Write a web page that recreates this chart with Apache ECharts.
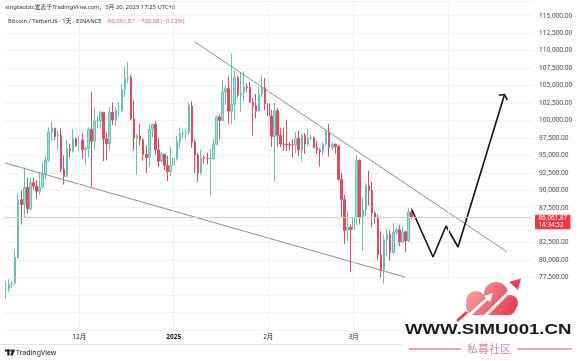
<!DOCTYPE html>
<html><head><meta charset="utf-8">
<script src="https://cdn.jsdelivr.net/npm/echarts@6/dist/echarts.min.js"></script>
<style>html,body{margin:0;padding:0;background:#fff}#c{width:580px;height:361px}</style>
</head><body><div id="c"></div>
<script>
// ---------- DATA ----------
const startDate = '2024-11-07';   // first visible daily candle
const slotCount = 173;            // daily slots across the plot (incl. empty future days)
// [open, close, low, high]
const nov = [
[75860,75900,74420,76950],[75900,76540,75400,77250],[76540,76680,75960,76950],[76680,80370,76490,81500],
[80370,88650,80220,89530],[88650,87950,85080,89950],[87950,90380,86130,93270],[90380,87330,86670,91760],
[87330,91070,87100,91850],[91070,90590,90090,91800],[90590,89860,88720,91450],[89860,90460,89380,92590],
[90460,92310,90380,94000],[92310,94290,91530,94830],[94290,98350,94060,98970],[98350,98890,97110,99800],
[98890,97670,97160,98900],[97670,97900,95730,98560],[97900,93010,92600,98870],[93010,91970,90790,94970],
[91970,95950,91820,97210],[95950,95640,94680,96650],[95640,97460,95380,98690],[97460,96410,96160,97500]
];
const dec = [
[96410,97190,95690,97840],[97190,95840,94500,98150],[95840,95980,93580,96300],[95980,98740,94660,99000],
[98740,97030,90500,104090],[97030,99920,95700,101900],[99920,99920,98900,100550],[99920,101170,98800,101400],
[101170,97350,94150,101200],[97350,96660,94260,98270],[96660,101170,95700,101900],[101170,100040,99310,102540],
[100040,101420,99200,101900],[101420,101420,100600,102650],[101420,104460,101200,105250],[104460,106060,103300,107800],
[106060,106140,105300,108350],[106140,100200,100000,106500],[100200,97460,95700,102800],[97460,97760,92200,98100],
[97760,97220,96400,99540],[97220,95100,94200,97400],[95100,94690,92400,96400],[94690,98690,93400,99400],
[98690,99450,97600,99500],[99450,95790,95100,99900],[95790,94160,93300,97500],[94160,95160,94000,95500],
[95160,93530,92900,95200],[93530,92640,91300,94900],[92640,93580,92000,96200]
];
const jan = [
[93580,94590,92750,95000],[94590,96980,94200,97800],[96980,98140,96000,98980],[98140,98210,97500,98730],
[98210,98310,97200,98800],[98310,102080,97900,102480],[102080,96920,96100,102700],[96920,95040,92500,97260],
[95040,92480,91200,95350],[92480,94700,92200,95840],[94700,94560,93800,95000],[94560,94500,93700,95400],
[94500,94520,89260,95900],[94520,96530,94300,97370],[96530,100500,96500,100700],[100500,99990,97300,100900],
[99990,104080,99900,105800],[104080,104550,102300,104990],[104550,101330,99500,106300],[101330,102260,99500,109590],
[102260,106140,100100,107200],[106140,103650,103300,106400],[103650,103960,101200,106850],[103960,104820,102750,107100],
[104820,104710,104100,105300],[104710,102620,102500,105500],[102620,102080,97800,103200],[102080,101330,100300,103800],
[101330,103730,101300,104800],[103730,104730,103300,106460],[104730,102430,101500,106100]
];
const feb = [
[102430,100640,100300,102800],[100640,97690,96200,101500],[97690,101400,91230,102500],[101400,97870,96150,101750],
[97870,96620,96200,99000],[96620,96590,95650,99000],[96590,96530,95600,100100],[96530,96480,95700,96900],
[96480,96460,94700,97300],[96460,97430,95300,98350],[97430,95780,94850,98500],[95780,97870,94100,98100],
[97870,96600,95200,98200],[96600,97500,96300,98800],[97500,97570,97200,97970],[97570,96120,96050,97700],
[96120,95770,95200,97000],[95770,95540,93400,96000],[95540,96630,95000,96900],[96630,98330,96400,98800],
[98330,96130,94850,99500],[96130,96580,95750,96900],[96580,96270,95250,96670],[96270,91550,91400,96500],
[91550,88680,86100,92500],[88680,84250,82300,89300],[84250,84700,82700,87000],[84700,84370,78260,85100]
];
const mar = [
[84370,86060,83800,86500],[86060,94270,85050,95000],[94270,86120,85100,94400],[86120,87220,81400,88900],
[87220,90620,86300,91000],[90620,89960,87800,92800],[89960,86740,84700,91200],[86740,86150,85200,86900],
[86150,80730,80000,86500],[80730,78600,77460,84100],[78600,82930,76600,83600],[82930,83680,80600,84400],
[83680,81070,79900,84300],[81070,83970,80800,85300],[83970,84340,83600,84700],[84340,82580,82000,85000],
[82580,84030,82400,84760],[84030,82720,81100,84100],[82720,86860.95,82600,87450],[86860.95,86061.87,85900,87450]
];
const monthTicks = [['2024-12-01','12月'],['2025-01-01','2025'],['2025-02-01','2月'],['2025-03-01','3月'],['2025-04-01','4月']];
const priceMin = 70000, priceMax = 117000, priceStep = 2500;
const countdown = '14:34:52';
const headerLine1 = 'xingtaobtc发表于TradingView.com，3月 20, 2025 17:25 UTC+8';
const symbolText = 'Bitcoin / TetherUS · 1天 · BINANCE';
const changeText = '−799.08 (−0.92%)';
// drawings: [slot index, price]
const upperTrend = [[61.98,111230],[164.3,81150]];
const lowerTrend = [[-0.34,93900],[130.85,77560]];
const projection = [[133.15,87160],[140.04,80430],[144.3,84870],[148.24,81860],[163.49,103710]];
const arrowHead = [[161.59,103600],[163.49,103710],[164.41,102920]];

// ---------- BUILD ----------
const candles = nov.concat(dec, jan, feb, mar);
const dates = [];
const t0 = Date.parse(startDate + 'T00:00:00Z');
for (let i = 0; i < slotCount; i++) dates.push(new Date(t0 + i * 86400000).toISOString().slice(0, 10));
const tickMap = {}; monthTicks.forEach(m => tickMap[m[0]] = m[1]);
const monthIdx = monthTicks.map(m => dates.indexOf(m[0]));
const lastClose = candles[candles.length - 1][1];
const fmt = v => v.toLocaleString('en-US', {minimumFractionDigits: 2, maximumFractionDigits: 2});
const FF = "'Noto Sans','Noto Sans CJK SC',sans-serif";

const chart = echarts.init(document.getElementById('c'));
const option = {
  animation: false,
  backgroundColor: '#ffffff',
  grid: {left: 4.5, right: 48, top: 1.74, bottom: 31.2},
  xAxis: [{
    type: 'category', data: dates, boundaryGap: true,
    axisLine: {show: false}, axisTick: {show: false}, splitLine: {show: false},
    axisLabel: {
      interval: (i, v) => tickMap[v] !== undefined,
      formatter: v => tickMap[v] === '2025' ? '{b|2025}' : (tickMap[v] || ''),
      color: '#131722', fontSize: 6.5, margin: 4, fontFamily: FF,
      rich: {b: {fontWeight: 'bold', fontSize: 6.5, color: '#131722', fontFamily: FF}}
    }
  }, {
    type: 'value', min: -0.5, max: slotCount - 0.5, show: false
  }],
  yAxis: {
    type: 'value', position: 'right', min: priceMin, max: priceMax, interval: priceStep,
    axisLine: {show: false}, axisTick: {show: false},
    splitLine: {lineStyle: {color: '#f0f2f6', width: 1}},
    axisLabel: {margin: 7, fontSize: 6.5, color: '#3d414a', fontFamily: FF, formatter: fmt, showMaxLabel: false}
  },
  series: [
    {type: 'line', xAxisIndex: 1, data: [], z: 1, silent: true,
     markLine: {silent: true, symbol: ['none', 'none'], label: {show: false},
       lineStyle: {color: '#eef0f4', width: 1, type: 'solid'},
       data: monthIdx.map(i => ({xAxis: i}))}},
    {type: 'candlestick', data: candles, barWidth: 2, z: 2,
     itemStyle: {color: '#a6dcd3', color0: '#e04b60', borderColor: '#66c0b3', borderColor0: '#e04b60', borderWidth: 1},
     markLine: {silent: true, symbol: ['none', 'none'], label: {show: false},
       lineStyle: {color: '#cfd1d6', width: 1, type: 'solid'},
       data: [{yAxis: lastClose}]}},
    {type: 'line', xAxisIndex: 1, data: upperTrend, symbol: 'none', z: 3, lineStyle: {color: '#8e8e8e', width: 1}},
    {type: 'line', xAxisIndex: 1, data: lowerTrend, symbol: 'none', z: 3, lineStyle: {color: '#8e8e8e', width: 1}},
    {type: 'line', xAxisIndex: 1, data: projection, symbol: 'none', z: 4, lineStyle: {color: '#111111', width: 1.6}},
    {type: 'line', xAxisIndex: 1, data: arrowHead, symbol: 'none', z: 4, lineStyle: {color: '#111111', width: 1.6}}
  ]
};
chart.setOption(option);

const py = chart.convertToPixel({yAxisIndex: 0}, lastClose);
const cloudFill = {type: 'linear', global: true, x: 465, y: 282, x2: 518, y2: 314,
  colorStops: [{offset: 0, color: '#f9aaa8'}, {offset: 1, color: '#e5344c'}]};
chart.setOption({graphic: [
  {type: 'text', x: 5, y: 7.5, style: {text: headerLine1, fontSize: 5.9, fill: '#2a2e39', fontFamily: FF, verticalAlign: 'middle'}},
  {type: 'text', x: 8, y: 21.5, style: {
    text: '{a|' + symbolText + '}  {r|' + fmt(lastClose) + '  ' + changeText + '}',
    verticalAlign: 'middle', fontFamily: FF,
    rich: {a: {fontSize: 5.9, fill: '#2a2e39', fontFamily: FF}, r: {fontSize: 5.9, fill: '#ee5a6e', fontFamily: FF}}}},
  // price label
  {type: 'rect', shape: {x: 535, y: py - 3, width: 35.5, height: 14.5, r: 1}, style: {fill: '#f23645'}, z: 10},
  {type: 'text', x: 538.5, y: py + 1, z: 11, style: {text: fmt(lastClose), fontSize: 6.3, fill: '#fff', fontFamily: FF, verticalAlign: 'middle'}},
  {type: 'text', x: 538.5, y: py + 7.8, z: 11, style: {text: countdown, fontSize: 6.3, fill: '#fff', fontFamily: FF, verticalAlign: 'middle'}},
  // time axis bottom border
  {type: 'line', shape: {x1: 0, y1: 344.5, x2: 580, y2: 344.5}, style: {stroke: '#e0e3eb', lineWidth: 1}},
  // TradingView logo
  {type: 'rect', shape: {x: 5, y: 349.5, width: 4.5, height: 2}, style: {fill: '#131722'}},
  {type: 'rect', shape: {x: 7.3, y: 349.5, width: 2.2, height: 6}, style: {fill: '#131722'}},
  {type: 'circle', shape: {cx: 11.2, cy: 350.6, r: 1.1}, style: {fill: '#131722'}},
  {type: 'polygon', shape: {points: [[10.2, 355.5], [12.6, 349.5], [15, 349.5], [12.6, 355.5]]}, style: {fill: '#131722'}},
  {type: 'text', x: 16, y: 352.6, style: {text: 'TradingView', fontSize: 7, fill: '#131722', fontFamily: FF, verticalAlign: 'middle'}},
  // watermark
  {type: 'rect', shape: {x: 403, y: 279, width: 177, height: 82}, style: {fill: '#ffffff'}, z: 50},
  {type: 'circle', shape: {cx: 476, cy: 301, r: 10}, style: {fill: cloudFill}, z: 51},
  {type: 'circle', shape: {cx: 496, cy: 294, r: 12}, style: {fill: cloudFill}, z: 51},
  {type: 'circle', shape: {cx: 510, cy: 303, r: 8}, style: {fill: cloudFill}, z: 51},
  {type: 'rect', shape: {x: 466, y: 298, width: 50, height: 17, r: 8}, style: {fill: cloudFill}, z: 51},
  {type: 'line', shape: {x1: 466, y1: 318, x2: 489, y2: 297}, style: {stroke: '#fff', lineWidth: 3}, z: 52},
  {type: 'polygon', shape: {points: [[484, 296], [493, 293], [490, 302]]}, style: {fill: '#fff'}, z: 52},
  {type: 'line', shape: {x1: 482, y1: 319, x2: 512, y2: 289}, style: {stroke: '#fff', lineWidth: 3}, z: 52},
  {type: 'line', shape: {x1: 457, y1: 321, x2: 467, y2: 312}, style: {stroke: '#ea4058', lineWidth: 3}, z: 52},
  {type: 'polygon', shape: {points: [[509, 282], [521, 278.5], [518, 290]]}, style: {fill: '#ea4058'}, z: 52},
  {type: 'text', x: 405, y: 330, scaleX: 1.24, z: 53, style: {text: 'WWW.SIMU001.CN', fontSize: 15, fontWeight: 'bold', fill: '#1b1b1b', fontFamily: "'Liberation Sans',Arial,sans-serif", verticalAlign: 'middle'}},
  {type: 'line', shape: {x1: 409, y1: 349, x2: 461, y2: 349}, style: {stroke: '#d98c98', lineWidth: 1.5}, z: 53},
  {type: 'line', shape: {x1: 517, y1: 349, x2: 572, y2: 349}, style: {stroke: '#d98c98', lineWidth: 1.5}, z: 53},
  {type: 'text', x: 489, y: 349, z: 53, style: {text: '私募社区', fontSize: 11, fill: '#d98c98', fontFamily: "'Noto Sans CJK SC',sans-serif", align: 'center', verticalAlign: 'middle'}}
]});
</script></body></html>
